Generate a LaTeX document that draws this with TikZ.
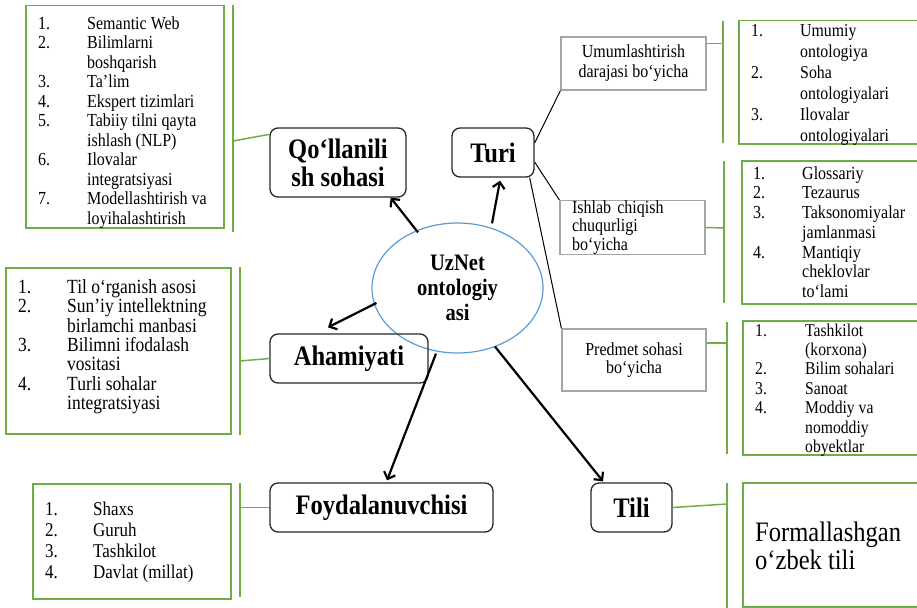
\documentclass[tikz,border=0pt]{standalone}
\usepackage{fontspec}
\setmainfont[FakeStretch=0.87]{Liberation Serif}
\usetikzlibrary{arrows.meta,calc,shapes.geometric}
\definecolor{lgreen}{RGB}{112,173,71}
\definecolor{lblue}{RGB}{91,155,213}
\definecolor{lgrey}{RGB}{165,165,165}
% two-column numbered list: number column of fixed width, then the item text
\newcommand\numlist[2]{\begin{tabular}[t]{@{}p{#1}@{}l@{}}#2\end{tabular}}

\begin{document}
\begin{tikzpicture}[x=1pt,y=-1pt,
  listbox/.style={draw=lgreen,line width=1.5pt,anchor=north west,inner sep=0pt},
  bracket/.style={draw=lgreen,line width=1.5pt},
  topic/.style={draw=black!85,line width=1.3pt,rounded corners=8pt,inner sep=0pt,
    align=center,font=\fontsize{28.2}{28}\selectfont\bfseries},
  kind/.style={draw=lgrey,line width=1.2pt,inner sep=0pt,align=center,
    font=\fontsize{18.4}{20}\selectfont},
  listtext/.style={anchor=base west,inner sep=0pt},
  arr/.style={line width=2.2pt,-{Straight Barb[length=6pt,width=12pt]}},
  thinline/.style={line width=1pt}
]
\useasboundingbox (0,0) rectangle (917,607);
\clip (0,0) rectangle (917,607);

% ---------- central concept ----------
\node[draw=lblue,line width=1.2pt,ellipse,minimum width=171pt,minimum height=130pt,
      inner sep=0pt,align=center,font=\fontsize{23.6}{25}\selectfont\bfseries]
      (ell) at (457.5,288) {UzNet\\ontologiy\\asi};

% ---------- main branches ----------
\node[topic,minimum width=136pt,minimum height=69pt] (qo)   at (338,162.5) {Qo‘llanili\\sh sohasi};
\node[topic,minimum width=82pt, minimum height=49pt] (turi) at (493,152.5) {Turi};
\node[topic,minimum width=158pt,minimum height=49pt] (aha)  at (349,358.5) {Ahamiyati};
\node[topic,minimum width=223pt,minimum height=49pt] (foyd) at (381.5,507.5) {Foydalanuvchisi};
\node[topic,minimum width=81pt, minimum height=49pt] (tili) at (631.5,507.5) {Tili};

\draw[arr] ([xshift=-39.5pt,yshift=-10pt]ell.north) -- ([xshift=-16pt]qo.south east);
\draw[arr] ([xshift=34.5pt,yshift=-1pt]ell.north)   -- ([xshift=7pt,yshift=-3pt]turi.south);
\draw[arr] ([xshift=5pt,yshift=-15pt]ell.west)      -- ([xshift=-21pt,yshift=6pt]aha.north);
\draw[arr] ([xshift=-21.5pt]ell.south)              -- ([xshift=5.5pt,yshift=2pt]foyd.north);
\draw[arr] ([xshift=37.5pt,yshift=7pt]ell.south)    -- ([xshift=-28.5pt,yshift=1pt]tili.north);

% ---------- kinds of ontology ----------
\node[kind,minimum width=145pt,minimum height=53pt] (umum) at (633.5,63.5) {Umumlashtirish\\darajasi bo‘yicha};
\node[kind,minimum width=145pt,minimum height=53pt,text width=121pt,inner xsep=12pt,align=left]
      (ishlab) at (632.5,227.5) {Ishlab chiqish\\[-1.5pt]chuqurligi\\[-1.5pt]bo‘yicha};
\node[kind,minimum width=144pt,minimum height=62pt] (pred) at (634,360)
      {\raisebox{4pt}{\begin{tabular}{@{}c@{}}Predmet sohasi\\[-2pt]bo‘yicha\end{tabular}}};

\draw[thinline] ([yshift=9.5pt]turi.east)  -- (umum.south west);
\draw[thinline] ([yshift=-9.5pt]turi.east) -- (ishlab.north west);
\draw[thinline] ([xshift=-5pt]turi.south east) -- (pred.north west);

% ---------- application areas ----------
\node[listbox,minimum width=198pt,minimum height=222pt] (boxA) at (25,5) {};
\node[listtext,font=\fontsize{18.4}{19.5}\selectfont] (txtA) at (38,29.2) {\numlist{49pt}{%
1.&Semantic Web\\
2.&Bilimlarni\\
  &boshqarish\\
3.&Ta’lim\\
4.&Ekspert tizimlari\\
5.&Tabiiy tilni qayta\\
  &ishlash (NLP)\\
6.&Ilovalar\\
  &integratsiyasi\\
7.&Modellashtirish va\\
  &loyihalashtirish}};
\coordinate (bAt) at (233,5);
\coordinate (bAb) at (233,232);
\coordinate (bAm) at (233,141);
\draw[bracket] (bAt) -- (bAb);
\draw[bracket] (bAm) -- ([yshift=-7pt]qo.north west);

% ---------- importance ----------
\node[listbox,minimum width=225pt,minimum height=166pt] (boxB) at (5,267) {};
\node[listtext,font=\fontsize{20.1}{18.7}\selectfont] (txtB) at (18,293) {\numlist{49pt}{%
1.&Til o‘rganish asosi\\
2.&Sun’iy intellektning\\
  &birlamchi manbasi\\
3.&Bilimni ifodalash\\
  &vositasi\\
4.&Turli sohalar\\
  &integratsiyasi}};
\coordinate (bBt) at (240,267);
\coordinate (bBb) at (240,435);
\coordinate (bBm) at (240,361);
\draw[bracket] (bBt) -- (bBb);
\draw[bracket] (bBm) -- (aha.west);

% ---------- users ----------
\node[listbox,minimum width=198pt,minimum height=115pt] (boxC) at (32,483) {};
\node[listtext,font=\fontsize{19.5}{21}\selectfont] (txtC) at (45,515.6) {\numlist{48pt}{%
1.&Shaxs\\
2.&Guruh\\
3.&Tashkilot\\
4.&Davlat (millat)}};
\coordinate (bCt) at (240,483);
\coordinate (bCb) at (240,597);
\coordinate (bCm) at (240,507.5);
\draw[bracket] (bCt) -- (bCb);
\draw[bracket] (bCm) -- (foyd.west);

% ---------- by level of generalisation ----------
\node[listbox,minimum width=220pt,minimum height=123pt] (boxT1) at (738,20) {};
\node[listtext,font=\fontsize{18.2}{21}\selectfont] (txtT1) at (751,36.2) {\numlist{49pt}{%
1.&Umumiy\\
  &ontologiya\\
2.&Soha\\
  &ontologiyalari\\
3.&Ilovalar\\
  &ontologiyalari}};
\coordinate (bT1t) at (723,21);
\coordinate (bT1b) at (723,143);
\coordinate (bT1m) at (723,43.5);
\draw[bracket] (bT1t) -- (bT1b);
\draw[bracket] ([yshift=20pt]umum.east) -- (bT1m);

% ---------- by depth of elaboration ----------
\node[listbox,minimum width=220pt,minimum height=143pt] (boxT2) at (741,160) {};
\node[listtext,font=\fontsize{18.4}{19.7}\selectfont] (txtT2) at (753,179.2) {\numlist{49pt}{%
1.&Glossariy\\
2.&Tezaurus\\
3.&Taksonomiyalar\\
  &jamlanmasi\\
4.&Mantiqiy\\
  &cheklovlar\\
  &to‘lami}};
\coordinate (bT2t) at (724,161);
\coordinate (bT2b) at (724,303);
\coordinate (bT2m) at (724,228);
\draw[bracket] (bT2t) -- (bT2b);
\draw[bracket] (ishlab.east) -- (bT2m);

% ---------- by subject domain ----------
\node[listbox,minimum width=220pt,minimum height=134pt] (boxT3) at (742,320) {};
\node[listtext,font=\fontsize{18}{19.4}\selectfont] (txtT3) at (755,336.1) {\numlist{50pt}{%
1.&Tashkilot\\
  &(korxona)\\
2.&Bilim sohalari\\
3.&Sanoat\\
4.&Moddiy va\\
  &nomoddiy\\
  &obyektlar}};
\coordinate (bT3t) at (727,322);
\coordinate (bT3b) at (727,454);
\coordinate (bT3m) at (727,343);
\draw[bracket] (bT3t) -- (bT3b);
\draw[bracket] ([yshift=17pt]pred.east) -- (bT3m);

% ---------- language ----------
\node[listbox,minimum width=220pt,minimum height=124pt] (boxL) at (742,482) {};
\node[anchor=base west,inner sep=0pt,font=\fontsize{28.2}{28}\selectfont]
      (txtL) at (755,541) {\begin{tabular}[t]{@{}l@{}}Formallashgan\\o‘zbek tili\end{tabular}};
\coordinate (bLt) at (727,483);
\coordinate (bLb) at (727,610);
\coordinate (bLm) at (727,504);
\draw[bracket] (bLt) -- (bLb);
\draw[bracket] (tili.east) -- (bLm);
\end{tikzpicture}
\end{document}
